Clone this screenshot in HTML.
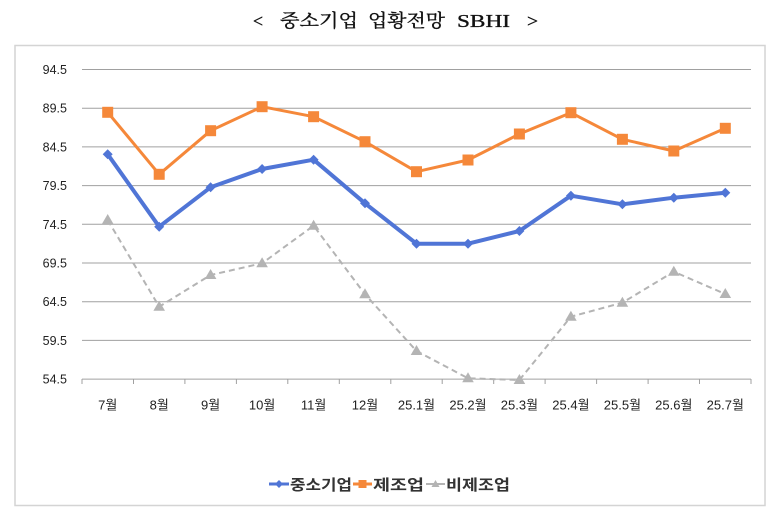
<!DOCTYPE html>
<html><head><meta charset="utf-8"><style>
html,body{margin:0;padding:0;background:#fff;}
svg{display:block;}
</style></head><body>
<svg width="780" height="516" viewBox="0 0 780 516" xmlns="http://www.w3.org/2000/svg">
<rect x="0" y="0" width="780" height="516" fill="#fff"/>
<g font-family="'Liberation Serif','Noto Serif CJK SC',serif" font-size="18" fill="#111" stroke="#111" stroke-width="0.35">
<text x="253" y="27" textLength="10" lengthAdjust="spacingAndGlyphs">&lt;</text>
<text x="280" y="27" textLength="78" lengthAdjust="spacingAndGlyphs">중소기업</text>
<text x="368" y="27" textLength="77" lengthAdjust="spacingAndGlyphs">업황전망</text>
<text x="457" y="27" textLength="53" lengthAdjust="spacingAndGlyphs">SBHI</text>
<text x="527" y="27" textLength="11" lengthAdjust="spacingAndGlyphs">&gt;</text>
</g>
<rect x="15" y="45.5" width="750" height="460" fill="#fff" stroke="#d4d4d4" stroke-width="1.5"/>
<g stroke="#a0a0a0" stroke-width="1">
<line x1="82" y1="69.5" x2="751" y2="69.5"/>
<line x1="82" y1="108.2" x2="751" y2="108.2"/>
<line x1="82" y1="146.9" x2="751" y2="146.9"/>
<line x1="82" y1="185.6" x2="751" y2="185.6"/>
<line x1="82" y1="224.3" x2="751" y2="224.3"/>
<line x1="82" y1="263" x2="751" y2="263"/>
<line x1="82" y1="301.7" x2="751" y2="301.7"/>
<line x1="82" y1="340.4" x2="751" y2="340.4"/>
<line x1="82" y1="379.1" x2="751" y2="379.1"/>
<line x1="82" y1="379" x2="82" y2="384"/>
<line x1="133.5" y1="379" x2="133.5" y2="384"/>
<line x1="184.9" y1="379" x2="184.9" y2="384"/>
<line x1="236.4" y1="379" x2="236.4" y2="384"/>
<line x1="287.8" y1="379" x2="287.8" y2="384"/>
<line x1="339.3" y1="379" x2="339.3" y2="384"/>
<line x1="390.8" y1="379" x2="390.8" y2="384"/>
<line x1="442.2" y1="379" x2="442.2" y2="384"/>
<line x1="493.7" y1="379" x2="493.7" y2="384"/>
<line x1="545.1" y1="379" x2="545.1" y2="384"/>
<line x1="596.6" y1="379" x2="596.6" y2="384"/>
<line x1="648.1" y1="379" x2="648.1" y2="384"/>
<line x1="699.5" y1="379" x2="699.5" y2="384"/>
<line x1="751" y1="379" x2="751" y2="384"/>
</g>
<g font-family="'Liberation Sans','Noto Sans CJK KR',sans-serif" font-size="12.5" fill="#222" text-anchor="end">
<text x="67" y="74">94.5</text>
<text x="67" y="112.7">89.5</text>
<text x="67" y="151.4">84.5</text>
<text x="67" y="190.1">79.5</text>
<text x="67" y="228.8">74.5</text>
<text x="67" y="267.5">69.5</text>
<text x="67" y="306.2">64.5</text>
<text x="67" y="344.9">59.5</text>
<text x="67" y="383.6">54.5</text>
</g>
<g font-family="'Liberation Sans','Noto Sans CJK KR',sans-serif" font-size="13" fill="#222" text-anchor="middle">
<text x="107.7" y="409.5">7월</text>
<text x="159.2" y="409.5">8월</text>
<text x="210.6" y="409.5">9월</text>
<text x="262.1" y="409.5">10월</text>
<text x="313.6" y="409.5">11월</text>
<text x="365" y="409.5">12월</text>
<text x="416.5" y="409.5">25.1월</text>
<text x="468" y="409.5">25.2월</text>
<text x="519.4" y="409.5">25.3월</text>
<text x="570.9" y="409.5">25.4월</text>
<text x="622.4" y="409.5">25.5월</text>
<text x="673.8" y="409.5">25.6월</text>
<text x="725.3" y="409.5">25.7월</text>
</g>
<!-- gray dashed -->
<polyline fill="none" stroke="#b4b4b4" stroke-width="2" stroke-dasharray="6,4" points="107.7,220 159.2,306.7 210.6,275 262.1,263.3 313.6,225.7 365,294.3 416.5,351 468,378.3 519.4,380 570.9,316.7 622.4,302.7 673.8,271.7 725.3,294"/>
<g fill="#b4b4b4">
<polygon points="107.7,214 113.5,224 101.9,224"/>
<polygon points="159.2,300.7 165,310.7 153.4,310.7"/>
<polygon points="210.6,269 216.4,279 204.8,279"/>
<polygon points="262.1,257.3 267.9,267.3 256.3,267.3"/>
<polygon points="313.6,219.7 319.4,229.7 307.8,229.7"/>
<polygon points="365,288.3 370.8,298.3 359.2,298.3"/>
<polygon points="416.5,345 422.3,355 410.7,355"/>
<polygon points="468,372.3 473.8,382.3 462.2,382.3"/>
<polygon points="519.4,374 525.2,384 513.6,384"/>
<polygon points="570.9,310.7 576.7,320.7 565.1,320.7"/>
<polygon points="622.4,296.7 628.2,306.7 616.6,306.7"/>
<polygon points="673.8,265.7 679.6,275.7 668,275.7"/>
<polygon points="725.3,288 731.1,298 719.5,298"/>
</g>
<!-- orange -->
<polyline fill="none" stroke="#f5883a" stroke-width="3" stroke-linejoin="round" points="107.7,112.3 159.2,174.3 210.6,130.7 262.1,106.7 313.6,116.7 365,141.7 416.5,171.7 468,160 519.4,134 570.9,112.7 622.4,139.3 673.8,151 725.3,128.3"/>
<g fill="#f5883a">
<rect x="102.2" y="106.8" width="11" height="11"/>
<rect x="153.7" y="168.8" width="11" height="11"/>
<rect x="205.1" y="125.2" width="11" height="11"/>
<rect x="256.6" y="101.2" width="11" height="11"/>
<rect x="308.1" y="111.2" width="11" height="11"/>
<rect x="359.5" y="136.2" width="11" height="11"/>
<rect x="411" y="166.2" width="11" height="11"/>
<rect x="462.5" y="154.5" width="11" height="11"/>
<rect x="513.9" y="128.5" width="11" height="11"/>
<rect x="565.4" y="107.2" width="11" height="11"/>
<rect x="616.9" y="133.8" width="11" height="11"/>
<rect x="668.3" y="145.5" width="11" height="11"/>
<rect x="719.8" y="122.8" width="11" height="11"/>
</g>
<!-- blue -->
<polyline fill="none" stroke="#5075d6" stroke-width="4" stroke-linejoin="round" points="107.7,154.3 159.2,226.7 210.6,187.3 262.1,169 313.6,159.7 365,203.3 416.5,243.7 468,243.7 519.4,231 570.9,195.7 622.4,204.3 673.8,197.7 725.3,192.7"/>
<g fill="#5075d6">
<polygon points="107.7,149.3 112.7,154.3 107.7,159.3 102.7,154.3"/>
<polygon points="159.2,221.7 164.2,226.7 159.2,231.7 154.2,226.7"/>
<polygon points="210.6,182.3 215.6,187.3 210.6,192.3 205.6,187.3"/>
<polygon points="262.1,164 267.1,169 262.1,174 257.1,169"/>
<polygon points="313.6,154.7 318.6,159.7 313.6,164.7 308.6,159.7"/>
<polygon points="365,198.3 370,203.3 365,208.3 360,203.3"/>
<polygon points="416.5,238.7 421.5,243.7 416.5,248.7 411.5,243.7"/>
<polygon points="468,238.7 473,243.7 468,248.7 463,243.7"/>
<polygon points="519.4,226 524.4,231 519.4,236 514.4,231"/>
<polygon points="570.9,190.7 575.9,195.7 570.9,200.7 565.9,195.7"/>
<polygon points="622.4,199.3 627.4,204.3 622.4,209.3 617.4,204.3"/>
<polygon points="673.8,192.7 678.8,197.7 673.8,202.7 668.8,197.7"/>
<polygon points="725.3,187.7 730.3,192.7 725.3,197.7 720.3,192.7"/>
</g>
<!-- legend -->
<line x1="269" y1="484" x2="289" y2="484" stroke="#5075d6" stroke-width="3"/>
<polygon points="279,480 283,484 279,488 275,484" fill="#5075d6"/>
<text x="290" y="490" font-family="'Liberation Sans','Noto Sans CJK KR',sans-serif" font-size="15" font-weight="bold" fill="#333" textLength="62" lengthAdjust="spacingAndGlyphs">중소기업</text>
<line x1="353" y1="484" x2="372" y2="484" stroke="#f5883a" stroke-width="3"/>
<rect x="358.5" y="480" width="8" height="8" fill="#f5883a"/>
<text x="373" y="490" font-family="'Liberation Sans','Noto Sans CJK KR',sans-serif" font-size="15" font-weight="bold" fill="#333" textLength="51" lengthAdjust="spacingAndGlyphs">제조업</text>
<line x1="426" y1="484" x2="445" y2="484" stroke="#b4b4b4" stroke-width="2"/>
<polygon points="435.5,480 439.5,487 431.5,487" fill="#b4b4b4"/>
<text x="446" y="490" font-family="'Liberation Sans','Noto Sans CJK KR',sans-serif" font-size="15" font-weight="bold" fill="#333" textLength="64" lengthAdjust="spacingAndGlyphs">비제조업</text>
</svg>
</body></html>
